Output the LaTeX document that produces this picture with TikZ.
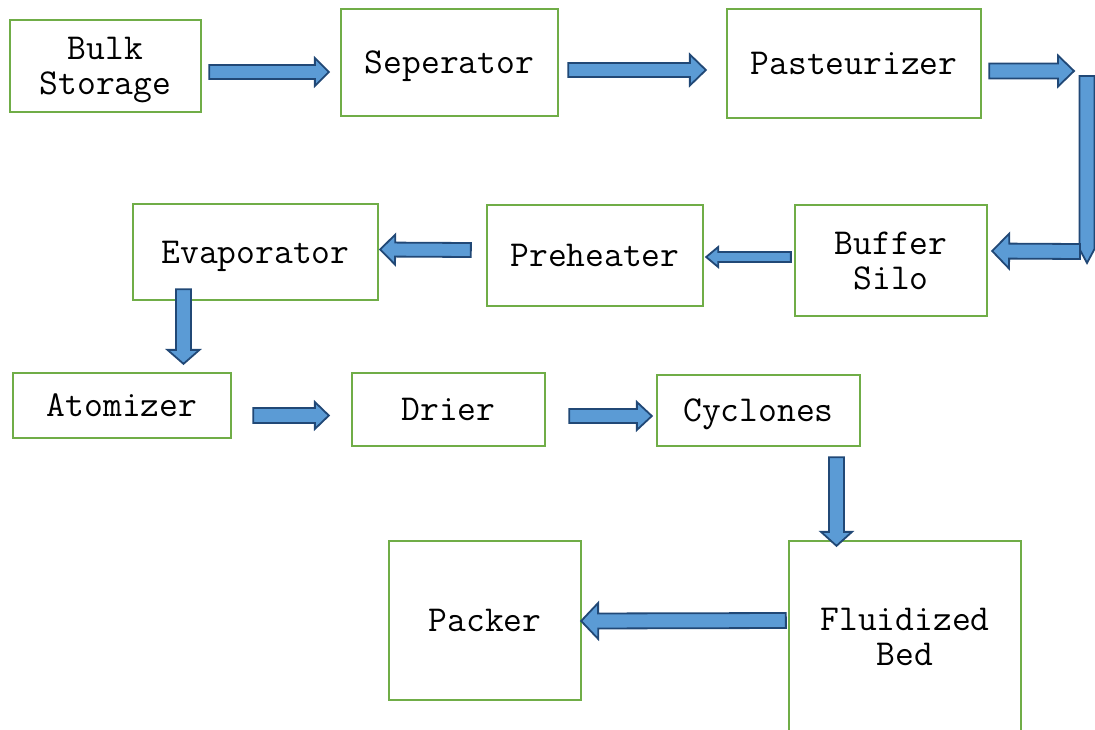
\documentclass[tikz,border=0pt]{standalone}
\usepackage{fontspec}
\usepackage{tikz}
\usetikzlibrary{calc}

\definecolor{boxgreen}{RGB}{112,173,71}
\definecolor{arrowfill}{RGB}{91,155,213}
\definecolor{arrowedge}{RGB}{33,72,118}

\tikzset{
	stage/.style={draw=boxgreen, line width=2.3pt, inner sep=0pt, align=center,
		text height=30pt, text depth=8pt,
		font=\ttfamily\fontsize{36.5}{35}\selectfont},
	stagetwo/.style={stage, text height=65pt},
	fatarrow/.style={draw=arrowedge, fill=arrowfill, line width=1.8pt, line join=miter}
}

% block arrow: start, tip, half shaft, half head, head length
\newcommand{\blockarr}[5]{%
	\coordinate (bs) at #1;
	\coordinate (be) at #2;
	\coordinate (hb) at ($(be)!#5pt!(bs)$);
	\draw[fatarrow] ($(bs)!#3pt!90:(be)$) -- ($(hb)!#3pt!-90:(bs)$) -- ($(hb)!#4pt!-90:(bs)$)
		-- (be) -- ($(hb)!#4pt!90:(bs)$) -- ($(hb)!#3pt!90:(bs)$) -- ($(bs)!#3pt!-90:(be)$) -- cycle;}

\begin{document}
\begin{tikzpicture}[x=1pt, y=-1pt]
	
	\clip (0,0) rectangle (1095,729);
	
	\node[stagetwo, minimum width=191pt, minimum height=92pt]  (bulk)   at (105.5, 66)   {Bulk\\Storage};
	\node[stage, minimum width=217pt, minimum height=107pt] (sep)    at (449.5, 62.5) {Seperator};
	\node[stage, minimum width=254pt, minimum height=109pt] (past)   at (854, 63.5)   {Pasteurizer};
	\node[stagetwo, minimum width=192pt, minimum height=111pt] (buffer) at (891, 260.5)  {Buffer\\Silo};
	\node[stage, minimum width=216pt, minimum height=101pt] (preh)   at (595, 255.5)  {Preheater};
	\node[stage, minimum width=245pt, minimum height=96pt]  (evap)   at (255.5, 252)  {Evaporator};
	\node[stage, minimum width=218pt, minimum height=65pt]  (atom)   at (122, 405.5)  {Atomizer};
	\node[stage, minimum width=193pt, minimum height=73pt]  (drier)  at (448.5, 409.5) {Drier};
	\node[stage, minimum width=203pt, minimum height=71pt]  (cycl)   at (758.5, 410.5) {Cyclones};
	\node[stage, minimum width=192pt, minimum height=159pt] (packer) at (485, 620.5)  {Packer};
	\node[stagetwo, minimum width=232pt, minimum height=191pt] (fluid)  at (905, 636.5)  {Fluidized\\Bed};
	
	\coordinate (turnA) at (1074, 71);
	\coordinate (turnB) at (1087, 76);
	\coordinate (turnC) at (1087, 263);
	\coordinate (turnD) at (1080, 251.5);
	
	\blockarr{([shift={(7,6)}]bulk.east)}{([shift={(-11,9.5)}]sep.west)}{7}{14}{14}
	\blockarr{([shift={(9,7.5)}]sep.east)}{([shift={(-20,6.5)}]past.west)}{7}{15.5}{16}
	\blockarr{([shift={(7,7.5)}]past.east)}{(turnA)}{7.5}{15.5}{16}
	\blockarr{(turnB)}{(turnC)}{7.5}{7.5}{14}
	\blockarr{(turnD)}{([shift={(4,-9.5)}]buffer.east)}{7.5}{17.5}{17}
	\blockarr{([shift={(-3,-3.5)}]buffer.west)}{([shift={(2,1.5)}]preh.east)}{5}{10}{12}
	\blockarr{([shift={(-15,-5.5)}]preh.west)}{([shift={(1,-2.5)}]evap.east)}{7}{15}{15}
	\blockarr{([shift={(-72,-12)}]evap.south)}{([shift={(61.5,-8)}]atom.north)}{7.5}{16}{14}
	\blockarr{([shift={(21,10)}]atom.east)}{([shift={(-22,6)}]drier.west)}{7.5}{13.5}{14}
	\blockarr{([shift={(23,6.5)}]drier.east)}{([shift={(-4,5.5)}]cycl.west)}{7}{14}{15}
	\blockarr{([shift={(78,10)}]cycl.south)}{([shift={(-68.5,6)}]fluid.north)}{7.5}{15.5}{14}
	\blockarr{([shift={(-2,-16)}]fluid.west)}{([shift={(-1,0.5)}]packer.east)}{7.5}{18}{17}
	
\end{tikzpicture}
\end{document}
